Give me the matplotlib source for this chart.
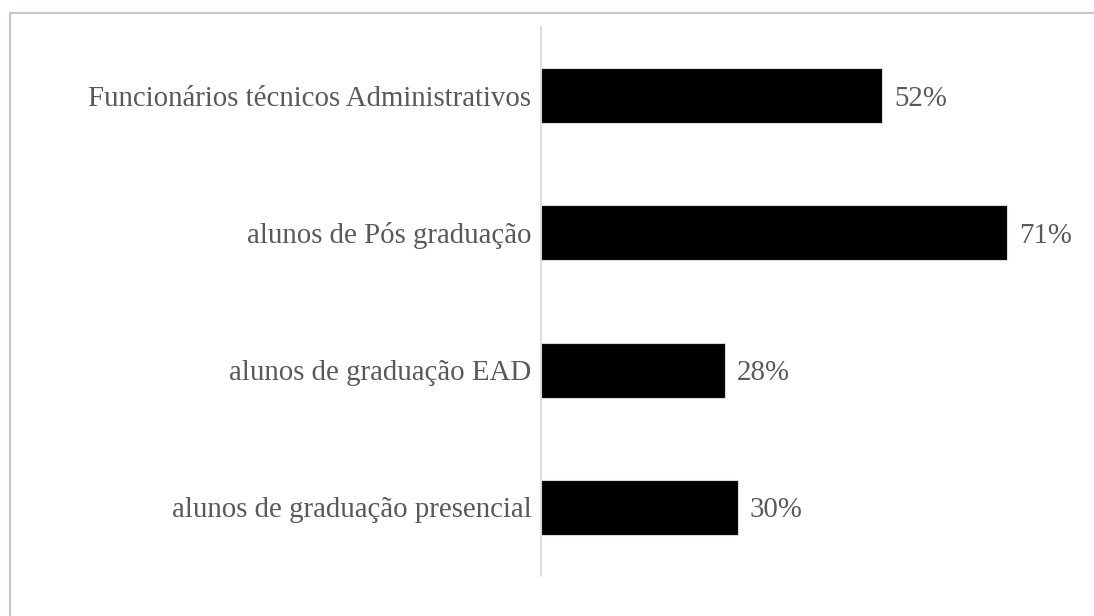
import numpy as np
import matplotlib.pyplot as plt
from matplotlib.lines import Line2D

categorias = ["alunos de graduação presencial",
              "alunos de graduação EAD",
              "alunos de Pós graduação",
              "Funcionários técnicos Administrativos"]
valores = [30, 28, 71, 52]
rotulos = ["30%", "28%", "71%", "52%"]

plt.rcParams['font.family'] = ['Liberation Serif', 'DejaVu Serif']

fig = plt.figure(figsize=(10.94, 6.16), dpi=100)
ax = fig.add_axes([541/1094, 40/616, 525/1094, 549/616])

y = np.arange(len(categorias))
ax.barh(y, valores, height=0.4, color="black", edgecolor="#d9d9d9", linewidth=0.8)
for yi, v, r in zip(y, valores, rotulos):
    ax.text(v + 1.8, yi, r, va="center_baseline", ha="left", fontsize=20.8, color="#595959")

ax.set_xlim(0, 80)
ax.set_ylim(-0.5, 3.5)
ax.set_yticks(y)
ax.set_yticklabels(categorias, fontsize=20.8, color="#595959")
ax.tick_params(axis="y", length=0, pad=7)
ax.set_xticks([])
for s in ["top", "right", "bottom"]:
    ax.spines[s].set_visible(False)
ax.spines["left"].set_color("#d9d9d9")
ax.spines["left"].set_linewidth(1.2)

# moldura do grafico (so topo e esquerda aparecem)
fig.add_artist(Line2D([9.5/1094, 9.5/1094], [0, 1 - 13/616], color="#cac5bd", lw=1.5))
fig.add_artist(Line2D([9.5/1094, 1], [1 - 13/616, 1 - 13/616], color="#cac5bd", lw=1.5))

plt.savefig("out.png", dpi=100)
